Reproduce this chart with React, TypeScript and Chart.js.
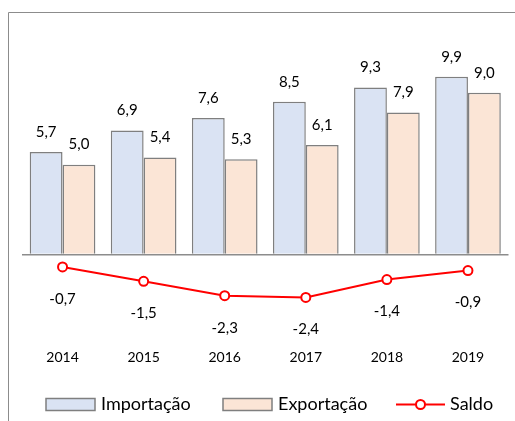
import React, { useEffect, useRef } from "react";
import { Chart, registerables } from "chart.js";

Chart.register(...registerables);

const years = ["2014", "2015", "2016", "2017", "2018", "2019"];
const importacao = [5.7, 6.9, 7.6, 8.5, 9.3, 9.9];
const exportacao = [5.0, 5.4, 5.3, 6.1, 7.9, 9.0];
const saldo = [-0.7, -1.5, -2.3, -2.4, -1.4, -0.9];
const legendLabels = ["Importação", "Exportação", "Saldo"];

const BLUE = "#dae3f3";
const ORANGE = "#fbe5d6";
const BAR_BORDER = "#7f7f7f";
const RED = "#ff0000";
const FONT = "Lato, 'Open Sans', sans-serif";

const fmt = (v: number) => v.toFixed(1).replace(".", ",");

const framePlugin = {
  id: "frame",
  beforeDraw(chart: any) {
    const ctx = chart.ctx;
    ctx.save();
    ctx.strokeStyle = "#8c8c8c";
    ctx.lineWidth = 1;
    ctx.beginPath();
    ctx.moveTo(8.5, chart.height);
    ctx.lineTo(8.5, 12.5);
    ctx.lineTo(chart.width, 12.5);
    ctx.stroke();
    ctx.restore();
  },
};

const labelsPlugin = {
  id: "valueLabels",
  afterDatasetsDraw(chart: any) {
    const ctx = chart.ctx;
    ctx.save();
    ctx.font = `15px ${FONT}`;
    ctx.fillStyle = "#000";
    ctx.textAlign = "center";
    ctx.textBaseline = "middle";
    chart.data.datasets.forEach((ds: any, i: number) => {
      const meta = chart.getDatasetMeta(i);
      meta.data.forEach((el: any, j: number) => {
        const v = ds.data[j];
        const off = ds.type === "line" ? 32 : -20;
        ctx.fillText(fmt(v), el.x, el.y + off);
      });
    });
    ctx.restore();
  },
};

const legendPlugin = {
  id: "customLegend",
  afterDraw(chart: any) {
    const ctx = chart.ctx;
    const cy = 404.5;
    ctx.save();
    ctx.font = `18px ${FONT}`;
    ctx.fillStyle = "#000";
    ctx.textBaseline = "middle";
    ctx.textAlign = "left";
    const boxes = [
      { x: 46, fill: BLUE, tx: 101 },
      { x: 223, fill: ORANGE, tx: 278 },
    ];
    boxes.forEach((b, i) => {
      ctx.fillStyle = b.fill;
      ctx.strokeStyle = BAR_BORDER;
      ctx.lineWidth = 1.5;
      ctx.fillRect(b.x, cy - 6, 49, 12);
      ctx.strokeRect(b.x, cy - 6, 49, 12);
      ctx.fillStyle = "#000";
      ctx.fillText(legendLabels[i], b.tx, cy);
    });
    ctx.strokeStyle = RED;
    ctx.lineWidth = 2;
    ctx.beginPath();
    ctx.moveTo(396, cy);
    ctx.lineTo(445, cy);
    ctx.stroke();
    ctx.beginPath();
    ctx.arc(420.5, cy, 4.5, 0, Math.PI * 2);
    ctx.fillStyle = "#fff";
    ctx.fill();
    ctx.stroke();
    ctx.fillStyle = "#000";
    ctx.fillText(legendLabels[2], 450, cy);
    ctx.restore();
  },
};

export default function App() {
  const ref = useRef<HTMLCanvasElement | null>(null);
  useEffect(() => {
    if (!ref.current) return;
    const chart = new Chart(ref.current, {
      type: "bar",
      data: {
        labels: years,
        datasets: [
          {
            type: "bar",
            label: legendLabels[0],
            data: importacao,
            backgroundColor: BLUE,
            borderColor: BAR_BORDER,
            borderWidth: 1.5,
            barPercentage: 1,
            categoryPercentage: 0.81,
            order: 2,
          },
          {
            type: "bar",
            label: legendLabels[1],
            data: exportacao,
            backgroundColor: ORANGE,
            borderColor: BAR_BORDER,
            borderWidth: 1.5,
            barPercentage: 1,
            categoryPercentage: 0.81,
            order: 2,
          },
          {
            type: "line",
            label: legendLabels[2],
            data: saldo,
            borderColor: RED,
            borderWidth: 2,
            pointRadius: 4.5,
            pointBorderWidth: 2,
            pointBackgroundColor: "#fff",
            pointBorderColor: RED,
            order: 1,
          } as any,
        ],
      },
      options: {
        animation: false,
        responsive: true,
        maintainAspectRatio: false,
        layout: { padding: { left: 22, right: 4, top: 39, bottom: 32 } },
        plugins: {
          legend: { display: false },
          tooltip: { enabled: false },
        },
        scales: {
          x: {
            grid: { display: false, drawTicks: false },
            border: { display: false },
            ticks: {
              color: "#000",
              font: { family: FONT, size: 14 },
              padding: 23,
            },
          },
          y: {
            min: -4,
            max: 12,
            ticks: { display: false, stepSize: 1 },
            border: { display: false },
            grid: {
              drawTicks: false,
              lineWidth: 1.5,
              color: (c: any) => (c.tick && c.tick.value === 0 ? "#8c8c8c" : "transparent"),
            },
          },
        },
      },
      plugins: [framePlugin, labelsPlugin, legendPlugin],
    });
    return () => chart.destroy();
  }, []);
  return (
    <div style={{ position: "absolute", left: 0, top: 0, width: 515, height: 421, background: "#fff" }}>
      <canvas ref={ref} />
    </div>
  );
}
